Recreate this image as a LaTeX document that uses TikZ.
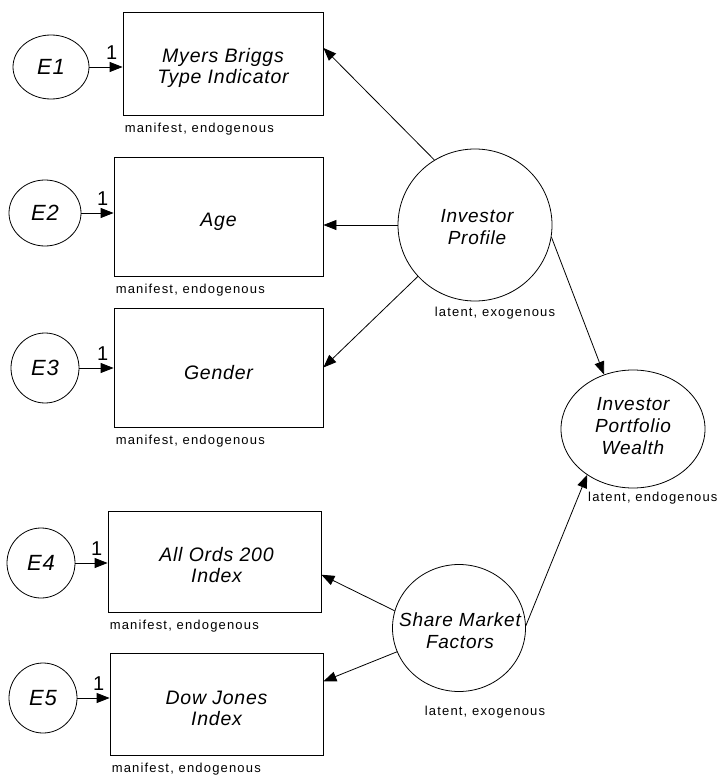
\documentclass[tikz,border=0pt]{standalone}
\usepackage{fontspec}
\setmainfont{Liberation Sans}
\newfontfamily\namefont[LetterSpace=4]{Liberation Sans}
\newfontfamily\notefont[LetterSpace=9]{Liberation Sans}
\usetikzlibrary{arrows.meta,shapes.geometric,calc}

\begin{document}
\begin{tikzpicture}[x=1pt,y=-1pt,
  every node/.style={inner sep=0pt},
  obs/.style={draw, rectangle, line width=0.8pt},
  obstext/.style={align=center,
    font=\namefont\itshape\fontsize{19.5}{21}\selectfont},
  err/.style={draw, ellipse, line width=0.8pt,
    font=\namefont\itshape\fontsize{22}{24}\selectfont},
  lat/.style={draw, ellipse, line width=0.8pt},
  lattext/.style={align=center, font=\namefont\itshape\fontsize{19}{22}\selectfont},
  note/.style={font=\notefont\fontsize{13}{15}\selectfont},
  one/.style={anchor=south, font=\fontsize{20}{22}\selectfont},
  link/.style={draw, line width=0.8pt, -{Triangle[length=13pt,width=10pt]}}
]
\useasboundingbox (0,0) rectangle (721,778);

% error terms
\node[err, minimum width=76pt, minimum height=64pt] (e1) at (51,67) {E1};
\node[err, minimum width=72pt, minimum height=66pt] (e2) at (45,213) {E2};
\node[err, minimum width=68pt, minimum height=70pt] (e3) at (45,368) {E3};
\node[err, minimum width=68pt, minimum height=70pt] (e4) at (41,563) {E4};
\node[err, minimum width=68pt, minimum height=70pt] (e5) at (43,698) {E5};

% observed variables
\node[obs, minimum width=200pt, minimum height=103pt] (b1) at (223,63.5) {};
\node[obs, minimum width=209pt, minimum height=119pt] (b2) at (218.5,216.5) {};
\node[obs, minimum width=209pt, minimum height=119pt] (b3) at (218.5,367.5) {};
\node[obs, minimum width=213pt, minimum height=101pt] (b4) at (214.5,561.5) {};
\node[obs, minimum width=213pt, minimum height=102pt] (b5) at (216.5,704) {};

\node[obstext] (b1t) at ($(b1)+(0,4)$) {Myers Briggs\\Type Indicator};
\node[obstext] (b2t) at ($(b2)+(0,5)$) {Age};
\node[obstext] (b3t) at ($(b3)+(0,5)$) {Gender};
\node[obstext] (b4t) at ($(b4)+(2,4)$) {All Ords 200\\Index};
\node[obstext] (b5t) at ($(b5)+(0,4)$) {Dow Jones\\Index};

\foreach \b in {b1,b2,b3,b4,b5}
  \node[note, anchor=base west] (\b n) at ($(\b.south west)+(2,17)$) {manifest, endogenous};

% latent variables
\node[lat, minimum width=154pt, minimum height=152pt] (ip) at (475,225) {};
\node[lattext] (ipt) at (477,227) {Investor\\Profile};
\node[lat, minimum width=144pt, minimum height=118pt] (ipw) at (633,429) {};
\node[lattext] (ipwt) at (633,426) {Investor\\Portfolio\\Wealth};
\node[lat, minimum width=133pt, minimum height=127pt] (smf) at (459,628) {};
\node[lattext] (smft) at (460,631) {Share Market\\Factors};

\node[note, anchor=base] (ipn) at (495,316) {latent, exogenous};
\node[note, anchor=base west] (ipwn) at (588,501) {latent, endogenous};
\node[note, anchor=base] (smfn) at (485,715) {latent, exogenous};

% error paths with fixed loading 1
\foreach \e/\b in {e1/b1,e2/b2,e3/b3,e4/b4,e5/b5}
  \draw[link] (\e) -- (\e -| \b.west)
    node[one, pos=1, xshift=-11pt, yshift=7pt] (\e one) {1};

% structural paths
\draw[link] (ip.122) -- ($(b1.north east)!0.35!(b1.south east)$);
\draw[link] (ip.west) -- (ip.west -| b2.east);
\draw[link] (ip.222) -- (b3.east);
\draw[link] (ip.-9) -- (ipw.118);
\draw[link] (smf.165) -- ($(b4.north east)!0.63!(b4.south east)$);
\draw[link] (smf.201) -- ($(b5.north east)!0.28!(b5.south east)$);
\draw[link] (smf.2) -- (ipw.225);
\end{tikzpicture}
\end{document}
